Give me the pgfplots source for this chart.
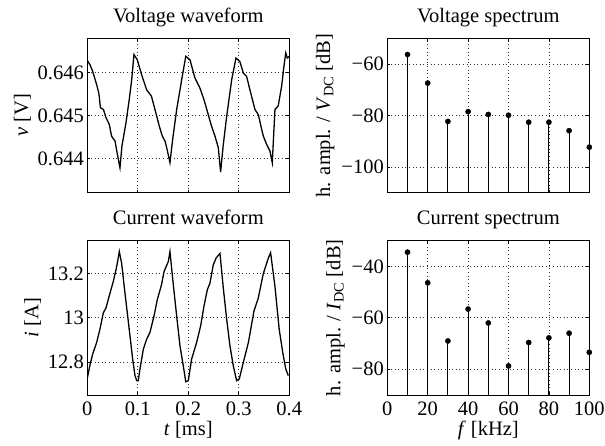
\documentclass[border=0pt]{standalone}
\usepackage{fontspec}
\setmainfont{Liberation Serif}
\usepackage{pgfplots}
\usepackage{pgfplotstable}
\pgfplotsset{compat=1.18}

\pgfplotstableread{
t v
0 0.64628
0.005 0.64619
0.0106 0.64603
0.0185 0.64572
0.023 0.64551
0.026 0.64518
0.032 0.64514
0.037 0.64495
0.0436 0.64479
0.048 0.64452
0.055 0.64440
0.059 0.64413
0.0647 0.64378
0.0686 0.64429
0.0766 0.64483
0.083 0.64537
0.088 0.64584
0.0924 0.64642
0.099 0.64630
0.1076 0.64595
0.1175 0.64560
0.127 0.64545
0.134 0.64514
0.1426 0.64475
0.1485 0.64452
0.154 0.64440
0.158 0.64421
0.1637 0.64390
0.169 0.64444
0.177 0.64514
0.187 0.64584
0.195 0.64638
0.2033 0.64630
0.213 0.64588
0.223 0.64564
0.231 0.64537
0.2376 0.64510
0.246 0.64475
0.2528 0.64452
0.2594 0.64425
0.264 0.64368
0.269 0.64429
0.276 0.64498
0.286 0.64584
0.2944 0.64634
0.302 0.64626
0.309 0.64599
0.3155 0.64591
0.322 0.64560
0.332 0.64514
0.3386 0.64502
0.3485 0.64452
0.355 0.64433
0.3617 0.64417
0.3663 0.64390
0.3716 0.64514
0.378 0.64522
0.3848 0.64568
0.3894 0.64615
0.393 0.64646
0.396 0.64634
0.4 0.64638
}\voltage

\pgfplotstableread{
t i
0 12.726
0.005 12.783
0.0106 12.835
0.0185 12.888
0.025 12.948
0.0317 13.022
0.037 13.045
0.045 13.112
0.0515 13.165
0.0568 13.217
0.0594 13.247
0.0634 13.300
0.068 13.247
0.0746 13.112
0.083 12.948
0.0898 12.813
0.0944 12.738
0.098 12.715
0.101 12.715
0.1043 12.768
0.111 12.858
0.1175 12.903
0.124 12.933
0.132 13.007
0.1386 13.082
0.147 13.150
0.152 13.210
0.1604 13.255
0.1637 13.300
0.170 13.157
0.177 13.007
0.1835 12.873
0.190 12.783
0.195 12.710
0.200 12.715
0.2066 12.813
0.2165 12.888
0.2244 12.963
0.231 13.052
0.2376 13.127
0.2429 13.157
0.2495 13.240
0.2548 13.270
0.2627 13.292
0.269 13.142
0.276 12.993
0.2825 12.873
0.289 12.783
0.2957 12.715
0.301 12.723
0.309 12.798
0.319 12.888
0.330 13.030
0.3386 13.090
0.3485 13.200
0.3584 13.270
0.363 13.295
0.3716 13.142
0.380 12.948
0.387 12.843
0.393 12.768
0.398 12.738
}\current

\pgfplotstableread{
f db
10 -56.3
20 -67.4
30 -82.3
40 -78.5
50 -79.6
60 -79.9
70 -82.6
80 -82.6
90 -85.9
100 -92.3
}\vspec

\pgfplotstableread{
f db
10 -34.5
20 -46.4
30 -69.0
40 -56.6
50 -62.0
60 -78.7
70 -69.6
80 -67.8
90 -66.0
100 -73.4
}\ispec

\pgfplotsset{
  matlab/.style={
    scale only axis,
    width=202pt, height=154.4pt,
    anchor=south west,
    axis line style={line width=0.8pt},
    grid=major,
    grid style={black!80, line width=0.6pt, dash pattern=on 0.6pt off 3pt},
    tick align=inside,
    major tick length=3pt,
    tick style={black, line width=0.6pt},
    /pgf/number format/assume math mode=true,
    every tick label/.append style={font=\fontsize{20.5}{24}\selectfont},
    xticklabel style={yshift=-3pt},
    xlabel style={yshift=1pt},
    label style={font=\fontsize{20.5}{24}\selectfont},
    title style={font=\fontsize{20.5}{24}\selectfont,
      at={(axis description cs:0.5,1)}, anchor=base, yshift=10pt},
    scaled ticks=false,
  },
  wave/.style={
    matlab,
    xmin=0, xmax=0.4,
    xtick={0,0.1,0.2,0.3,0.4},
  },
  spec/.style={
    matlab,
    xmin=0, xmax=100,
    xtick={0,20,40,60,80,100},
  },
}

\begin{document}
\begin{tikzpicture}
\path[use as bounding box] (0,0) rectangle (605pt,446pt);

% voltage waveform
\begin{axis}[wave,
    at={(87.3pt,253.3pt)},
    ymin=0.6432, ymax=0.6468,
    ytick={0.644,0.645,0.646},
    yticklabels={\textrm{0.644},\textrm{0.645},\textrm{0.646}},
    xticklabels={},
    title={Voltage waveform},
    ylabel={\textit{v} [V]},
]
\addplot[black, line width=1.3pt] table[x=t, y=v] {\voltage};
\end{axis}

% voltage spectrum
\begin{axis}[spec,
    at={(387.3pt,253.3pt)},
    ymin=-110, ymax=-50,
    ytick={-100,-80,-60},
    yticklabels={\textrm{−100},\textrm{−80},\textrm{−60}},
    xticklabels={},
    title={Voltage spectrum},
    ylabel={h. ampl. / \textit{V}\textsubscript{DC} [dB]},
]
\addplot[black, only marks, mark=*, mark size=2.6pt,
    error bars/.cd, y dir=minus, y explicit, error mark=none,
    error bar style={line width=1pt}]
  table[x=f, y=db, y error minus expr=\thisrow{db}+110] {\vspec};
\end{axis}

% current waveform
\begin{axis}[wave,
    at={(87.3pt,51pt)},
    ymin=12.65, ymax=13.35,
    ytick={12.8,13,13.2},
    yticklabels={\textrm{12.8},\textrm{13},\textrm{13.2}},
    xticklabels={\textrm{0},\textrm{0.1},\textrm{0.2},\textrm{0.3},\textrm{0.4}},
    title={Current waveform},
    xlabel={\textit{t} [ms]},
    ylabel={\textit{i} [A]},
]
\addplot[black, line width=1.3pt] table[x=t, y=i] {\current};
\end{axis}

% current spectrum
\begin{axis}[spec,
    at={(387.3pt,51pt)},
    ymin=-90, ymax=-30,
    ytick={-80,-60,-40},
    yticklabels={\textrm{−80},\textrm{−60},\textrm{−40}},
    xticklabels={\textrm{0},\textrm{20},\textrm{40},\textrm{60},\textrm{80},\textrm{100}},
    title={Current spectrum},
    xlabel={\textit{f} [kHz]},
    ylabel={h. ampl. / \textit{I}\textsubscript{DC} [dB]},
]
\addplot[black, only marks, mark=*, mark size=2.6pt,
    error bars/.cd, y dir=minus, y explicit, error mark=none,
    error bar style={line width=1pt}]
  table[x=f, y=db, y error minus expr=\thisrow{db}+90] {\ispec};
\end{axis}
\end{tikzpicture}
\end{document}
